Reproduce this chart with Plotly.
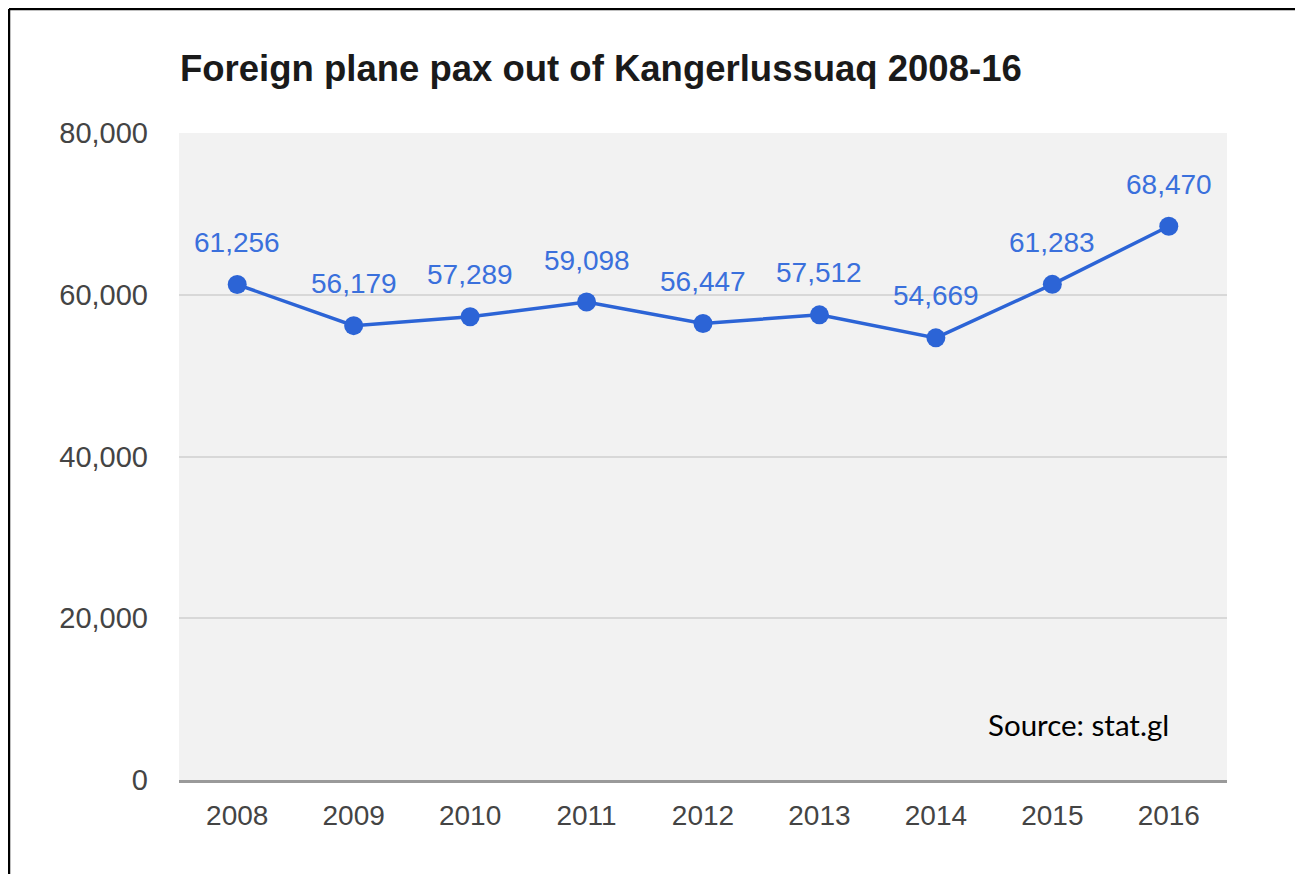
import plotly.graph_objects as go

years = [2008, 2009, 2010, 2011, 2012, 2013, 2014, 2015, 2016]
pax = [61256, 56179, 57289, 59098, 56447, 57512, 54669, 61283, 68470]
y_ticks = [0, 20000, 40000, 60000, 80000]
y_tick_labels = ["0", "20,000", "40,000", "60,000", "80,000"]
x_tick_labels = ["2008", "2009", "2010", "2011", "2012", "2013", "2014", "2015", "2016"]

title_text = "Foreign plane pax out of Kangerlussuaq 2008-16"
source_text = "Source: stat.gl"

# page body has an 8px margin; offsets compensate for it
OFF = 8
W, H = 1303, 874
L, R = 179 - OFF, 76 + OFF
T, B = 133 - OFF, 94 + OFF
pw, ph = W - L - R, H - T - B

line_color = "#2c64d6"
label_color = "#3a70dc"
font_fam = "Liberation Sans, Arial, sans-serif"

fig = go.Figure()
fig.add_trace(go.Scatter(
    x=years, y=pax, mode="lines+markers",
    line=dict(color=line_color, width=3.5),
    marker=dict(color=line_color, size=19),
    hoverinfo="skip", showlegend=False,
))

for yr, v in zip(years, pax):
    fig.add_annotation(
        x=yr, y=v, xref="x", yref="y", text=f"{v:,}", showarrow=False,
        yshift=42, xanchor="center", yanchor="middle",
        font=dict(family=font_fam, size=28, color=label_color),
    )

fig.add_annotation(
    xref="paper", yref="paper",
    x=(1078 - OFF - L) / pw, y=(H - B - (724 - OFF)) / ph,
    text=source_text, showarrow=False, xanchor="center", yanchor="middle",
    font=dict(family="Lato, Open Sans, sans-serif", size=29.5, color="#000000"),
)

# outer frame (left and top edges visible), drawn at the figure's edge
fx = (1 - L) / pw
fy = (H - B - 1) / ph
fig.add_shape(type="line", xref="paper", yref="paper", x0=fx, x1=fx, y0=fy, y1=-0.5,
              line=dict(color="#000000", width=2.5))
fig.add_shape(type="line", xref="paper", yref="paper", x0=fx, x1=1.5, y0=fy, y1=fy,
              line=dict(color="#000000", width=2.5))

fig.update_layout(
    width=W, height=H,
    margin=dict(l=L, r=R, t=T, b=B, pad=0),
    paper_bgcolor="#ffffff",
    plot_bgcolor="#f2f2f2",
    title=dict(
        text=f"<b>{title_text}</b>",
        x=(180 - OFF) / W, xanchor="left",
        y=1 - (68 - OFF) / H, yanchor="middle",
        font=dict(family=font_fam, size=36.5, color="#1a1a1a"),
    ),
    xaxis=dict(
        range=[2007.5, 2016.5], tickvals=years, ticktext=x_tick_labels,
        showgrid=False, zeroline=False,
        showline=True, linecolor="#9a9a9a", linewidth=3,
        ticks="", ticklabelstandoff=8,
        tickfont=dict(family=font_fam, size=28, color="#444444"),
    ),
    yaxis=dict(
        range=[0, 80000], tickvals=y_ticks, ticktext=y_tick_labels,
        showgrid=True, gridcolor="#d8d8d8", gridwidth=2,
        zeroline=False, showline=False,
        ticks="", ticklabelstandoff=30,
        tickfont=dict(family=font_fam, size=29, color="#444444"),
    ),
)

fig.write_html("out.html")
